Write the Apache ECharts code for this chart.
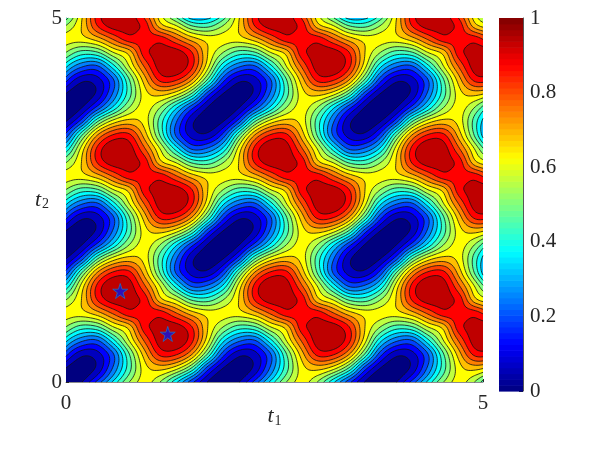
<!DOCTYPE html>
<html><head><meta charset="utf-8">
<style>html,body{margin:0;padding:0;background:#fff}#c{width:598px;height:455px}</style>
<script src="https://cdn.jsdelivr.net/npm/echarts@6/dist/echarts.min.js"></script>
</head><body><div id="c"></div>
<script>
// One repeating cell of the surface (rows: rising t2, columns: rising t1)
const row0=[0,.06,.21,.39,.56,.65,.56,.39,.21,.06];
const row1=[.06,.02,.08,.26,.47,.66,.71,.65,.49,.22];
const row2=[.21,.08,.10,.24,.49,.72,.89,.88,.75,.49];
const row3=[.39,.26,.24,.41,.62,.82,.97,1,.89,.65];
const row4=[.56,.47,.49,.62,.71,.91,.96,.97,.88,.69];
const row5=[.65,.66,.72,.82,.91,.90,.91,.82,.72,.66];
const row6=[.56,.69,.88,.97,.96,.91,.71,.62,.49,.47];
const row7=[.39,.65,.89,1,.97,.82,.62,.41,.24,.26];
const row8=[.21,.49,.75,.88,.89,.72,.49,.24,.10,.08];
const row9=[.06,.22,.49,.65,.71,.66,.47,.26,.08,.02];
const sampleSpacing=0.1885;
const contourLevels=[0,.0625,.125,.1875,.25,.3125,.375,.4375,.5,.5625,.625,.6875,.75,.8125,.875,.9375];
const stars=[[0.65,1.25],[1.22,0.66]];
const xTicks=[0,5];
const barTicks=[0,.2,.4,.6,.8,1];
const jetStops=[[0,0,0,.5],[.125,0,0,1],[.375,0,1,1],[.625,1,1,0],[.875,1,0,0],[1,.5,0,0]];

const tile=[row0,row1,row2,row3,row4,row5,row6,row7,row8,row9];
function jet(v){
  for(let k=1;k<jetStops.length;k++){
    if(v<=jetStops[k][0]){
      const a=jetStops[k-1],b=jetStops[k],f=(v-a[0])/(b[0]-a[0]);
      const c=[1,2,3].map(m=>Math.round(255*(a[m]+(b[m]-a[m])*f)));
      return 'rgb('+c.join(',')+')';
    }
  }
  return 'rgb(128,0,0)';
}
function cr(p0,p1,p2,p3,f){return .5*(2*p1+(p2-p0)*f+(2*p0-5*p1+4*p2-p3)*f*f+(3*p1-p0-3*p2+p3)*f*f*f);}
const m=i=>((i%10)+10)%10;
function surface(t1,t2){
  const u=t1/sampleSpacing,v=t2/sampleSpacing,iu=Math.floor(u),iv=Math.floor(v),fu=u-iu,fv=v-iv,col=[];
  for(let j=-1;j<=2;j++){
    const r=tile[m(iv+j)];
    col.push(cr(r[m(iu-1)],r[m(iu)],r[m(iu+1)],r[m(iu+2)],fu));
  }
  return cr(col[0],col[1],col[2],col[3],fv);
}
function renderSurface(params,api){
  const N=170,xs=[],ys=[],F=[];
  for(let i=0;i<=N;i++){xs.push(api.coord([5*i/N,0])[0]);ys.push(api.coord([0,5*i/N])[1]);}
  for(let j=0;j<=N;j++){const r=[];for(let i=0;i<=N;i++)r.push(surface(5*i/N,5*j/N));F.push(r);}
  const kids=[];
  const lines=[];
  contourLevels.forEach((L,idx)=>{
    const color=jet(L);
    if(idx===0){
      kids.push({type:'path',shape:{pathData:`M${xs[0]} ${ys[0]}L${xs[N]} ${ys[0]}L${xs[N]} ${ys[N]}L${xs[0]} ${ys[N]}Z`},style:{fill:color}});
      return;
    }
    const d=[];
    for(let j=0;j<N;j++){
      let run=-1;
      for(let i=0;i<=N;i++){
        const full=i<N&&F[j][i]>=L&&F[j][i+1]>=L&&F[j+1][i]>=L&&F[j+1][i+1]>=L;
        if(full){if(run<0)run=i;continue;}
        if(run>=0){
          d.push(`M${xs[run].toFixed(2)} ${ys[j].toFixed(2)}L${xs[i].toFixed(2)} ${ys[j].toFixed(2)}L${xs[i].toFixed(2)} ${ys[j+1].toFixed(2)}L${xs[run].toFixed(2)} ${ys[j+1].toFixed(2)}Z`);
          run=-1;
        }
        if(i===N)break;
        const c=[[xs[i],ys[j],F[j][i]],[xs[i+1],ys[j],F[j][i+1]],[xs[i+1],ys[j+1],F[j+1][i+1]],[xs[i],ys[j+1],F[j+1][i]]];
        if(c.every(q=>q[2]<L))continue;
        const poly=[],cross=[];
        for(let k=0;k<4;k++){
          const a=c[k],b=c[(k+1)%4];
          if(a[2]>=L)poly.push(a);
          if((a[2]>=L)!==(b[2]>=L)){
            const f=(L-a[2])/(b[2]-a[2]);
            const pt=[a[0]+(b[0]-a[0])*f,a[1]+(b[1]-a[1])*f];
            poly.push(pt);cross.push(pt);
          }
        }
        d.push('M'+poly.map(p=>p[0].toFixed(2)+' '+p[1].toFixed(2)).join('L')+'Z');
        for(let k=0;k+1<cross.length;k+=2)
          lines.push(`M${cross[k][0].toFixed(2)} ${cross[k][1].toFixed(2)}L${cross[k+1][0].toFixed(2)} ${cross[k+1][1].toFixed(2)}`);
      }
    }
    kids.push({type:'path',shape:{pathData:d.join('')},style:{fill:color}});
  });
  kids.push({type:'path',shape:{pathData:lines.join('')},style:{fill:'none',stroke:'#111',lineWidth:0.8}});
  return {type:'group',children:kids};
}
const barCells=[];for(let i=0;i<64;i++)barCells.push([i/64,(i+1)/64]);
const axisText={fontFamily:'Liberation Serif',fontSize:21,color:'#262626'};
const nameRich={i:{fontFamily:'Liberation Serif',fontStyle:'italic',fontSize:22,color:'#262626'},s:{fontFamily:'Liberation Serif',fontSize:14,color:'#262626',padding:[9,0,0,1]}};
const chart=echarts.init(document.getElementById('c'),null,{renderer:'canvas'});
chart.setOption({
  animation:false,
  grid:[{left:66,top:18,width:417,height:364},{left:499,top:18,width:24,height:373}],
  xAxis:[
    {type:'value',gridIndex:0,min:xTicks[0],max:xTicks[1],interval:5,name:'{i|t}{s|1}',nameLocation:'middle',nameGap:23,nameMoveOverlap:false,nameTextStyle:{rich:nameRich},
     axisLine:{onZero:false,lineStyle:{color:'#8c8c8c',width:1}},axisTick:{inside:true,length:3,lineStyle:{color:'#262626'}},axisLabel:Object.assign({margin:11},axisText),splitLine:{show:false}},
    {type:'value',gridIndex:1,min:0,max:1,show:false}
  ],
  yAxis:[
    {type:'value',gridIndex:0,min:0,max:5,interval:5,name:'{i|t}{s|2}',nameLocation:'middle',nameRotate:0,nameGap:17,nameMoveOverlap:false,nameTextStyle:{rich:nameRich},
     axisLine:{onZero:false,lineStyle:{color:'#8c8c8c',width:1}},axisTick:{inside:true,length:3,lineStyle:{color:'#262626'}},axisLabel:Object.assign({margin:4},axisText),splitLine:{show:false}},
    {type:'value',gridIndex:1,position:'right',min:barTicks[0],max:barTicks[5],interval:.2,
     axisLine:{onZero:false,lineStyle:{color:'#555',width:1}},axisTick:{inside:true,length:4,lineStyle:{color:'#262626'}},axisLabel:Object.assign({margin:7,formatter:v=>String(+v.toFixed(1))},axisText),splitLine:{show:false}}
  ],
  series:[
    {type:'custom',xAxisIndex:0,yAxisIndex:0,silent:true,data:[[0,0]],renderItem:renderSurface,z:2},
    {type:'scatter',xAxisIndex:0,yAxisIndex:0,silent:true,data:stars,z:5,symbol:'path://M0,-10L2.25,-3.09L9.51,-3.09L3.63,1.18L5.88,8.09L0,3.82L-5.88,8.09L-3.63,1.18L-9.51,-3.09L-2.25,-3.09Z',symbolSize:15,itemStyle:{color:'#0a14e6',borderColor:'#1f6fc0',borderWidth:1}},
    {type:'custom',xAxisIndex:1,yAxisIndex:1,silent:true,data:barCells,z:2,encode:{y:[0,1]},renderItem:(p,api)=>{
      const a=api.coord([0,api.value(0)]),b=api.coord([1,api.value(1)]);
      return {type:'rect',shape:{x:a[0],y:b[1],width:b[0]-a[0],height:a[1]-b[1]+0.6},style:{fill:jet((api.value(0)+api.value(1))/2)}};
    }}
  ]
});
</script></body></html>
